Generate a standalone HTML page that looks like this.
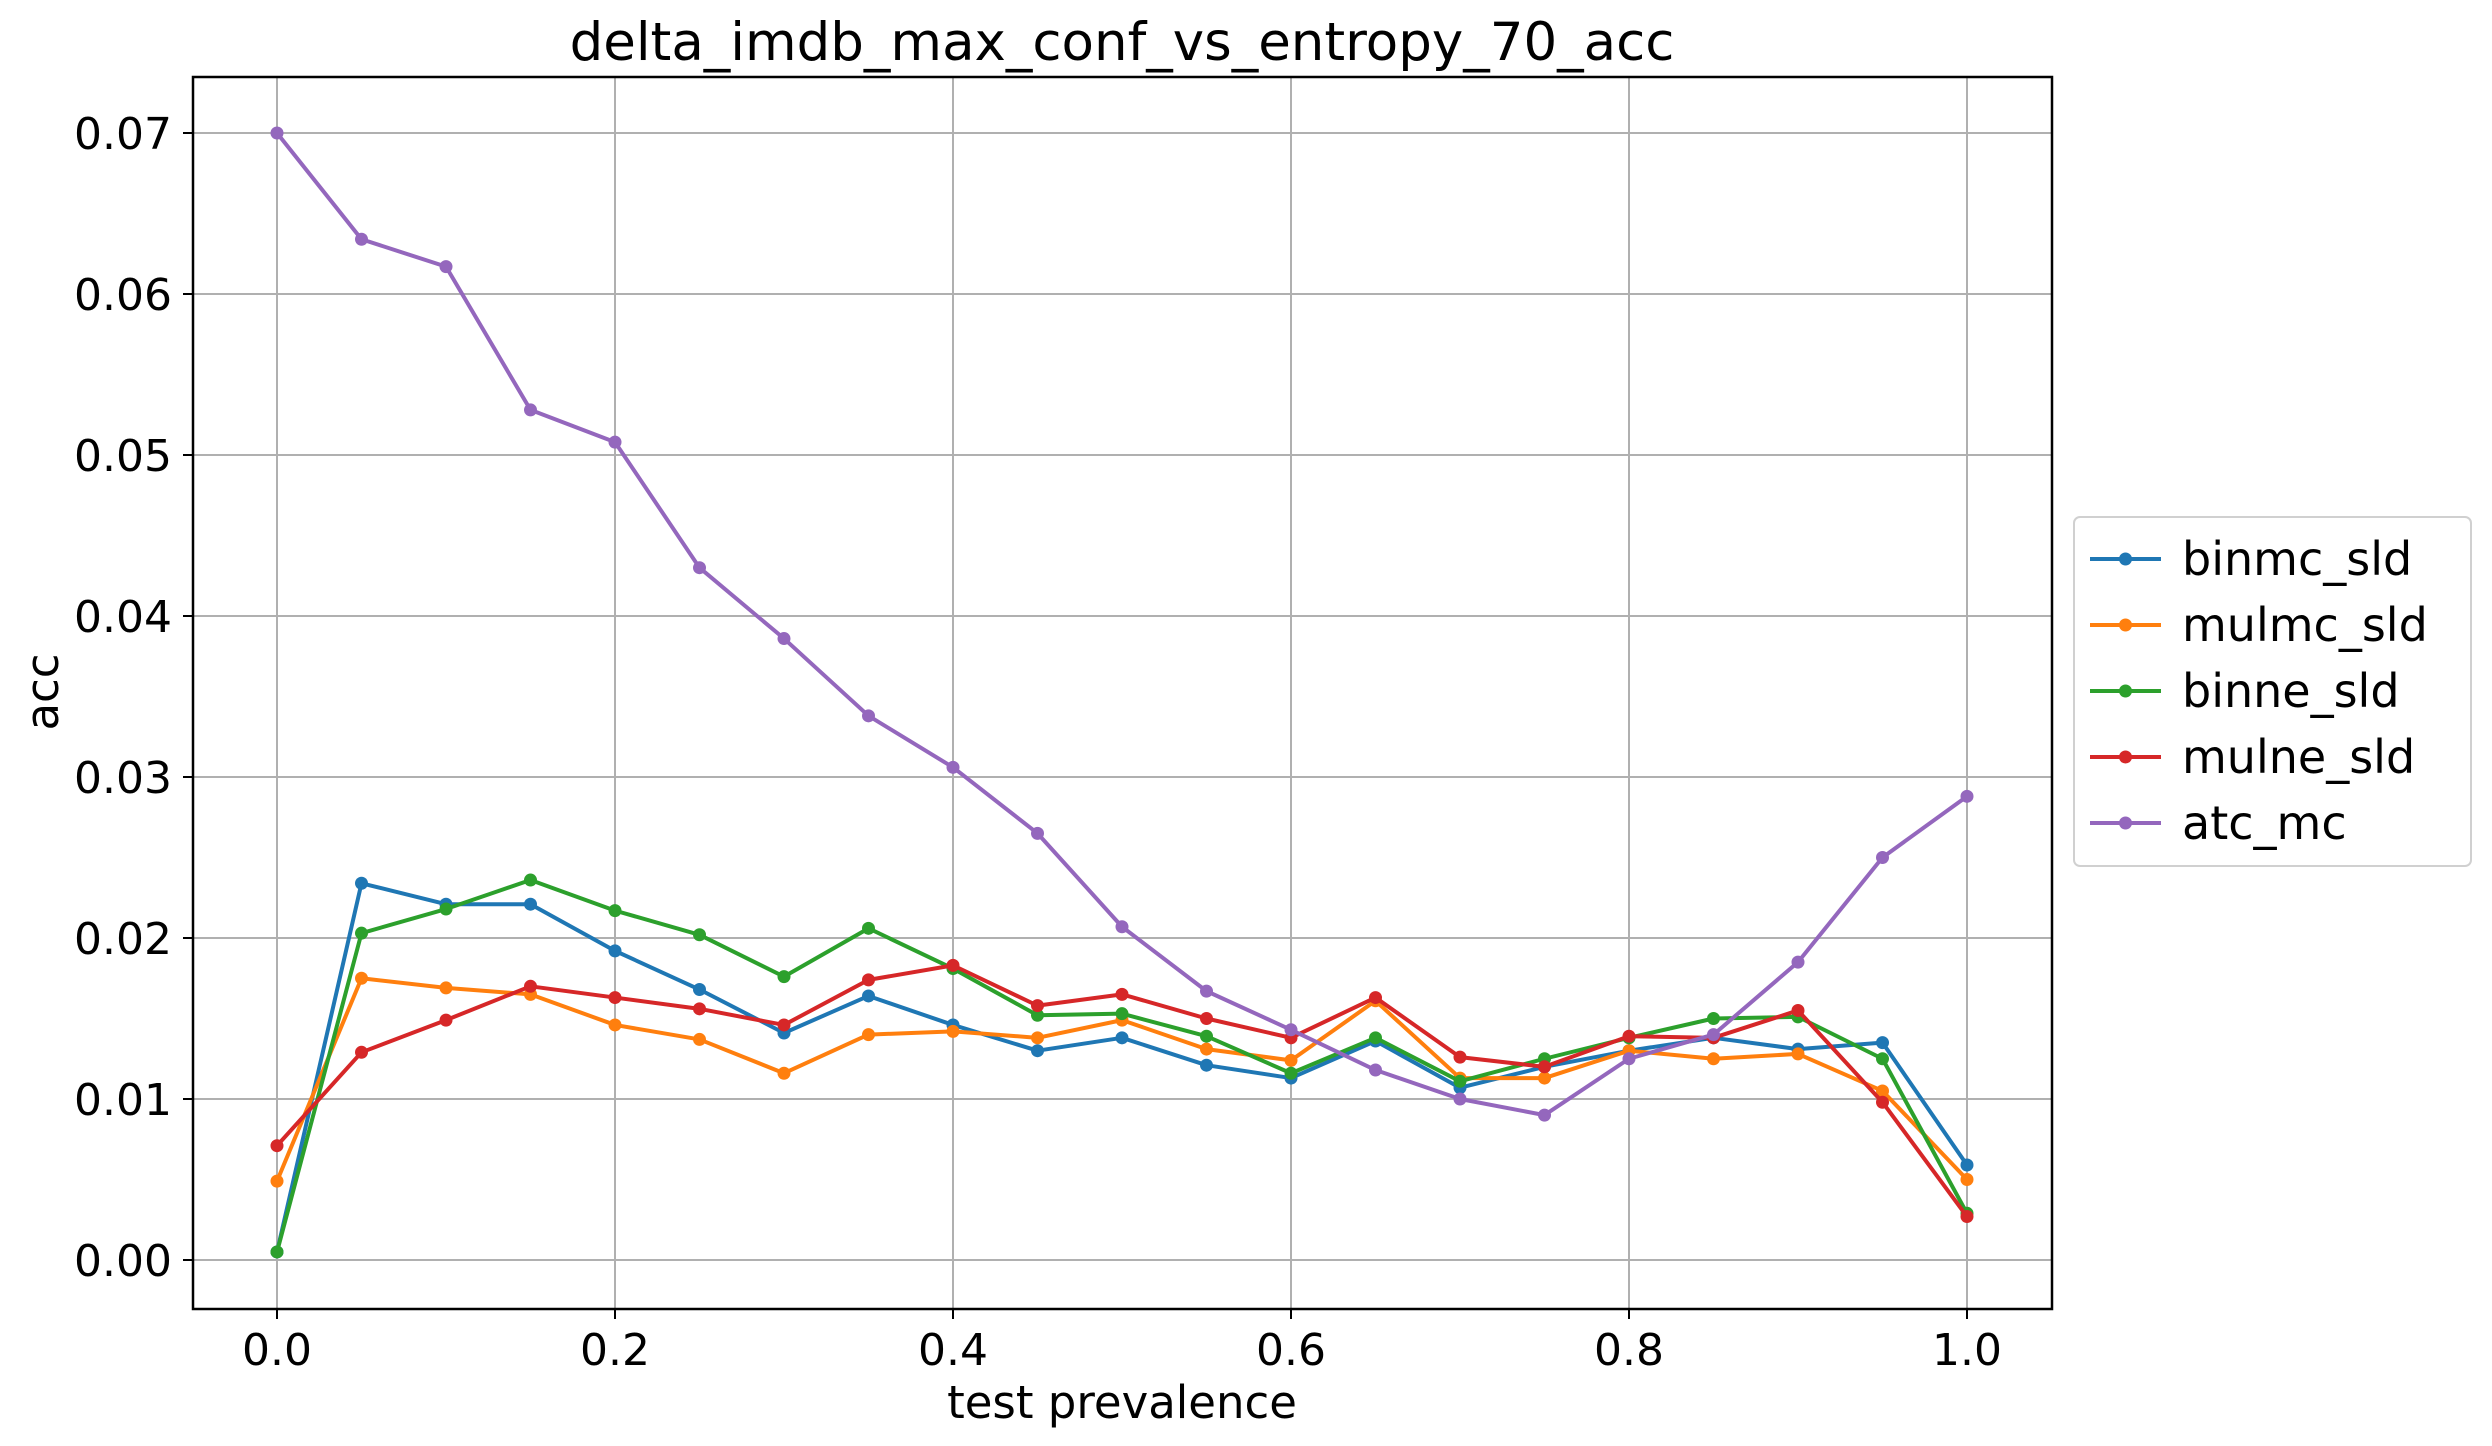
<!DOCTYPE html>
<html><head><meta charset="utf-8"><style>
html,body{margin:0;padding:0;background:#fff;}
svg{display:block;font-family:"DejaVu Sans","Liberation Sans",sans-serif;}
</style></head><body>
<svg id="chart" width="2492" height="1446" viewBox="0 0 2492 1446" xmlns="http://www.w3.org/2000/svg">
<rect width="2492" height="1446" fill="#fff"/>
<g id="grid"></g>
<g id="series"></g>
<rect x="193" y="77" width="1859" height="1232" fill="none" stroke="#000" stroke-width="2.5"/>
<g id="ticks"></g>
<text x="1122" y="60" font-size="53" text-anchor="middle">delta_imdb_max_conf_vs_entropy_70_acc</text>
<text x="1122" y="1418" font-size="45" text-anchor="middle">test prevalence</text>
<text x="0" y="0" font-size="45" text-anchor="middle" transform="translate(58,692) rotate(-90)">acc</text>
<g id="legend"></g>
</svg>
<script>
const xs = [0,0.05,0.1,0.15,0.2,0.25,0.3,0.35,0.4,0.45,0.5,0.55,0.6,0.65,0.7,0.75,0.8,0.85,0.9,0.95,1.0];
const seriesNames = ["binmc_sld","mulmc_sld","binne_sld","mulne_sld","atc_mc"];
const seriesColors = ["#1f77b4","#ff7f0e","#2ca02c","#d62728","#9467bd"];
const binmc_sld = [0.0005,0.0234,0.0221,0.0221,0.0192,0.0168,0.0141,0.0164,0.0146,0.0130,0.0138,0.0121,0.0113,0.0136,0.0107,0.0120,0.0130,0.0138,0.0131,0.0135,0.0059];
const mulmc_sld = [0.0049,0.0175,0.0169,0.0165,0.0146,0.0137,0.0116,0.0140,0.0142,0.0138,0.0149,0.0131,0.0124,0.0161,0.0113,0.0113,0.0130,0.0125,0.0128,0.0105,0.0050];
const binne_sld = [0.0005,0.0203,0.0218,0.0236,0.0217,0.0202,0.0176,0.0206,0.0181,0.0152,0.0153,0.0139,0.0116,0.0138,0.0111,0.0125,0.0138,0.0150,0.0151,0.0125,0.0029];
const mulne_sld = [0.0071,0.0129,0.0149,0.0170,0.0163,0.0156,0.0146,0.0174,0.0183,0.0158,0.0165,0.0150,0.0138,0.0163,0.0126,0.0120,0.0139,0.0138,0.0155,0.0098,0.0027];
const atc_mc = [0.0700,0.0634,0.0617,0.0528,0.0508,0.0430,0.0386,0.0338,0.0306,0.0265,0.0207,0.0167,0.0143,0.0118,0.0100,0.0090,0.0125,0.0140,0.0185,0.0250,0.0288];
const xTicks = [0,0.2,0.4,0.6,0.8,1.0];
const xTickLabels = ["0.0","0.2","0.4","0.6","0.8","1.0"];
const yTicks = [0,0.01,0.02,0.03,0.04,0.05,0.06,0.07];
const yTickLabels = ["0.00","0.01","0.02","0.03","0.04","0.05","0.06","0.07"];

const NS="http://www.w3.org/2000/svg";
function X(v){return 277+v*1690;}
function Y(v){return 1260-v*16100;}
function mk(tag,attrs,parent){const e=document.createElementNS(NS,tag);for(const k in attrs)e.setAttribute(k,attrs[k]);parent.appendChild(e);return e;}
const grid=document.getElementById('grid'),ticks=document.getElementById('ticks'),ser=document.getElementById('series'),leg=document.getElementById('legend');
xTicks.forEach((t,i)=>{
  const g=mk('line',{x1:X(t),x2:X(t),y1:77,y2:1309,stroke:'#b0b0b0','stroke-width':2},grid);
  
  
  const tk=mk('line',{x1:X(t),x2:X(t),y1:1309,y2:1319,stroke:'#000','stroke-width':2},ticks);
  
  
  const tx=mk('text',{x:X(t),y:1365,'font-size':44,'text-anchor':'middle'},ticks);
  tx.textContent=xTickLabels[i];
  
  
});
yTicks.forEach((t,i)=>{
  const g=mk('line',{x1:193,x2:2052,y1:Y(t),y2:Y(t),stroke:'#b0b0b0','stroke-width':2},grid);
  
  
  const tk=mk('line',{x1:183,x2:193,y1:Y(t),y2:Y(t),stroke:'#000','stroke-width':2},ticks);
  
  
  const tx=mk('text',{x:172,y:Y(t)+16,'font-size':44,'text-anchor':'end'},ticks);
  tx.textContent=yTickLabels[i];
  
  
});
const allSeries=[binmc_sld,mulmc_sld,binne_sld,mulne_sld,atc_mc];
allSeries.forEach((vals,si)=>{
  const c=seriesColors[si];
  const pts=vals.map((v,i)=>X(xs[i])+','+Y(v)).join(' ');
  const pl=mk('polyline',{points:pts,fill:'none',stroke:c,'stroke-width':4,'stroke-linejoin':'round'},ser);
  
  
  vals.forEach((v,i)=>{
    const p=mk('circle',{cx:X(xs[i]),cy:Y(v),r:6.5,fill:c},ser);
    
    
  });
});
const box=mk('rect',{x:2074,y:517,width:397,height:349,rx:6,fill:'#fff',stroke:'#d0d0d0','stroke-width':2},leg);


seriesNames.forEach((n,i)=>{
  const y=559+i*66;
  const c=seriesColors[i];
  const l=mk('line',{x1:2090,x2:2161,y1:y,y2:y,stroke:c,'stroke-width':4},leg);
  
  
  const d=mk('circle',{cx:2125.5,cy:y,r:6.5,fill:c},leg);
  
  
  const t=mk('text',{x:2182,y:y+16,'font-size':46},leg);
  t.textContent=n;
  
  
});
</script>
</body></html>
